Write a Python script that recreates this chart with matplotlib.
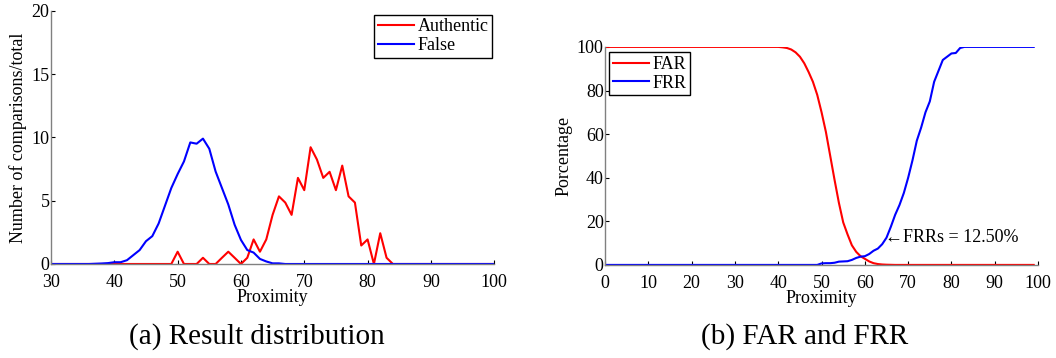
import numpy as np
import matplotlib
matplotlib.use("Agg")
import matplotlib.pyplot as plt

plt.rcParams['font.family'] = ['Liberation Serif', 'DejaVu Serif']

# (a) result distribution, proximity 30..100
prox_a = np.arange(30, 101)
authentic = [0] * 20 + [
    0.97, 0, 0, 0, 0.49, 0, 0, 0.49, 0.97, 0.49,   # 50-59
    0, 0.49, 1.94, 0.97, 1.94, 3.88, 5.34, 4.85, 3.88, 6.80,  # 60-69
    5.83, 9.22, 8.25, 6.80, 7.28, 5.83, 7.77, 5.34, 4.85, 1.46,  # 70-79
    1.94, 0, 2.43, 0.49, 0,  # 80-84
] + [0] * 16
false_ = [
    0, 0, 0, 0, 0, 0, 0, 0.02, 0.04, 0.07,   # 30-39
    0.14, 0.14, 0.3, 0.7, 1.1, 1.8, 2.2, 3.2, 4.6, 6.0,   # 40-49
    7.1, 8.1, 9.6, 9.5, 9.9, 9.1, 7.3, 6.0, 4.7, 3.1,   # 50-59
    1.9, 1.1, 0.9, 0.4, 0.2, 0.05, 0.05, 0, 0, 0,   # 60-69
] + [0] * 31

# (b) FAR / FRR, proximity 0..99
prox_b = np.arange(0, 100)
far = [100] * 41 + [
    99.8, 99.5, 98.8, 97.5, 95.5, 92.5, 88.5, 84, 78,   # 41-49
    70, 61, 50, 39, 28.5, 19.5, 14, 9, 6, 4,   # 50-59
    2.8, 1.6, 0.8, 0.4, 0.2, 0.1, 0.05,   # 60-66
] + [0] * 33
frr = [0] * 50 + [
    0.7, 0.8, 0.8, 1.0, 1.5, 1.6, 1.7, 2.3, 3.2, 3.8,   # 50-59
    4.0, 5.0, 6.5, 7.5, 9.5, 12.5, 17.5, 23, 27.5, 33,   # 60-69
    40, 48, 57, 63, 70, 75, 84, 89, 94, 95.5,   # 70-79
    97, 97.2, 99.5,   # 80-82
] + [100] * 17

fig = plt.figure(figsize=(10.56, 3.58), dpi=100)
ax1 = fig.add_axes([0.0483, 0.2626, 0.4197, 0.7074])
ax2 = fig.add_axes([0.573, 0.26, 0.410, 0.609])


def style(ax):
    for s in ['top', 'right']:
        ax.spines[s].set_visible(False)
    for s in ['left', 'bottom']:
        ax.spines[s].set_color('#808080')
        ax.spines[s].set_linewidth(1.0)
    ax.tick_params(direction='in', length=3, width=0.8, labelsize=13)
    ax.tick_params(axis='x', pad=7)
    ax.tick_params(axis='y', pad=1)
    ax.xaxis.labelpad = -1


ax1.plot(prox_a, authentic, color='red', lw=1.5, label='Authentic')
ax1.plot(prox_a, false_, color='blue', lw=1.5, label='False')
ax1.set_xlim(30, 100)
ax1.set_ylim(0, 20)
ax1.set_xticks(range(30, 101, 10))
ax1.set_yticks(range(0, 21, 5))
ax1.set_xlabel('Proximity', fontsize=13)
ax1.set_ylabel('Number of comparisons/total', fontsize=13, labelpad=3)
style(ax1)
leg1 = ax1.legend(loc='upper right', bbox_to_anchor=(0.995, 0.985), fontsize=13,
                  fancybox=False, framealpha=1, edgecolor='black',
                  handlelength=2.0, handletextpad=0.2, borderpad=0.2,
                  labelspacing=0.1, borderaxespad=0)
leg1.get_frame().set_linewidth(1.0)

ax2.plot(prox_b, far, color='red', lw=1.5, label='FAR')
ax2.plot(prox_b, frr, color='blue', lw=1.5, label='FRR')
ax2.set_xlim(0, 100)
ax2.set_ylim(0, 100)
ax2.set_xticks(range(0, 101, 10))
ax2.set_yticks(range(0, 101, 20))
ax2.set_xlabel('Proximity', fontsize=13)
ax2.set_ylabel('Porcentage', fontsize=13, labelpad=3)
style(ax2)
leg2 = ax2.legend(loc='upper left', bbox_to_anchor=(0.01, 0.975), fontsize=13,
                  fancybox=False, framealpha=1, edgecolor='black',
                  handlelength=2.0, handletextpad=0.2, borderpad=0.2,
                  labelspacing=0.1, borderaxespad=0)
leg2.get_frame().set_linewidth(1.0)
ax2.text(64.6, 12.5, '\u2190FRRs = 12.50%', fontsize=13, va='center', ha='left')

fig.text(0.243, 0.06, '(a) Result distribution', fontsize=21, ha='center', va='center')
fig.text(0.762, 0.06, '(b) FAR and FRR', fontsize=21, ha='center', va='center')

fig.savefig('out.png', dpi=100)
